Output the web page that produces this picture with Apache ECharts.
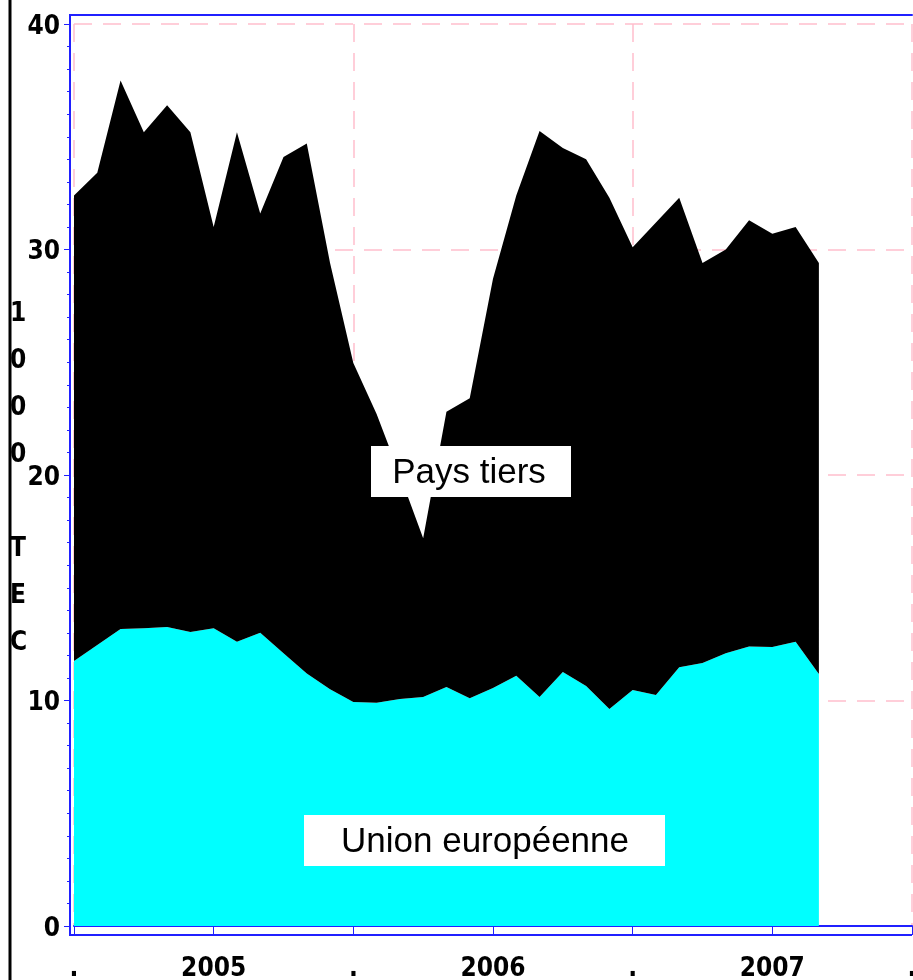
<!DOCTYPE html>
<html>
<head>
<meta charset="utf-8">
<script src="https://cdn.jsdelivr.net/npm/echarts@6/dist/echarts.min.js"></script>
<style>
  html, body { margin: 0; padding: 0; background: #fff; }
  #chart { width: 913px; height: 980px; }
</style>
</head>
<body>
<div id="chart"></div>
<script>
// mois de janvier 2005 à janvier 2008
var mois = [];
for (var a = 2005; a <= 2007; a++) {
  for (var m = 1; m <= 12; m++) {
    mois.push(a + '-' + (m < 10 ? '0' + m : m));
  }
}
mois.push('2008-01');

// 1000 TEC, janv. 2005 -> sept. 2007
var unionEuropeenne = [11.75, 12.46, 13.17, 13.2, 13.26, 13.04, 13.2, 12.6, 13.0, 12.1, 11.2, 10.5,
  9.93, 9.9, 10.07, 10.15, 10.6, 10.1, 10.55, 11.1, 10.15, 11.26, 10.64, 9.62,
  10.47, 10.24, 11.48, 11.66, 12.1, 12.4, 12.37, 12.6, 11.18];
var paysTiers = [20.65, 20.94, 24.33, 22.0, 23.14, 22.16, 17.8, 22.6, 18.6, 22.0, 23.5, 18.9,
  15.04, 12.8, 9.93, 7.05, 12.2, 13.3, 18.15, 21.3, 25.1, 23.24, 23.36, 22.68,
  19.63, 20.96, 20.82, 17.74, 17.9, 18.9, 18.33, 18.4, 18.22];

var titreY = ['1', '0', '0', '0', '', 'T', 'E', 'C'];

var bleu = '#2020ff';
var rose = '#ffbfcd';
var police = "'DejaVu Sans Condensed', 'DejaVu Sans', sans-serif";

var myChart = echarts.init(document.getElementById('chart'));

var option = {
  animation: false,
  grid: { left: 74, right: 1, top: 24, bottom: 54, containLabel: false, outerBoundsMode: 'none' },
  xAxis: [{
    type: 'category',
    data: mois,
    boundaryGap: false,
    offset: 9,
    axisLine: { lineStyle: { color: bleu, width: 2 } },
    axisTick: { interval: 5, length: 9, lineStyle: { color: bleu, width: 1 } },
    axisLabel: {
      interval: 5,
      margin: 21,
      color: '#000',
      fontFamily: police,
      fontWeight: 'bold condensed',
      fontSize: 26,
      formatter: function (v) {
        var p = v.split('-');
        return p[1] === '07' ? p[0] : '.';
      }
    },
    splitLine: { show: false }
  }, {
    // lignes verticales aux changements d'année
    type: 'category',
    data: mois,
    boundaryGap: false,
    position: 'top',
    offset: 9,
    axisLine: { show: true, lineStyle: { color: bleu, width: 2 } },
    axisTick: { show: false },
    axisLabel: { show: false },
    splitLine: { show: true, interval: 11, lineStyle: { color: rose, type: [18, 11], width: 1.5 } }
  }],
  yAxis: {
    type: 'value',
    min: 0,
    max: 40,
    interval: 10,
    offset: 4,
    axisLine: { show: true, lineStyle: { color: bleu, width: 2 } },
    axisTick: { show: true, length: 6, lineStyle: { color: bleu } },
    minorTick: { show: true, splitNumber: 10, length: 3, lineStyle: { color: bleu } },
    axisLabel: {
      margin: 10,
      color: '#000',
      fontFamily: police,
      fontWeight: 'bold condensed',
      fontSize: 26,
      formatter: '{v|{value}}',
      rich: { v: { fontFamily: police, fontWeight: 'bold condensed', fontSize: 26, padding: [6, 0, 0, 0] } }
    },
    splitLine: { show: true, lineStyle: { color: rose, type: [18, 11], width: 1.5 } }
  },
  series: [{
    name: 'Union européenne',
    type: 'line',
    stack: 'total',
    data: unionEuropeenne,
    showSymbol: false,
    lineStyle: { width: 0 },
    areaStyle: { color: '#00ffff', opacity: 1 }
  }, {
    name: 'Pays tiers',
    type: 'line',
    stack: 'total',
    data: paysTiers,
    showSymbol: false,
    lineStyle: { width: 0 },
    areaStyle: { color: '#000000', opacity: 1 }
  }],
  graphic: [
    // cadre
    { type: 'polyline', shape: { points: [[912, 15], [70, 15], [70, 935], [912, 935]] },
      style: { stroke: bleu, lineWidth: 2, fill: null }, z: 10 },
    // trait noir à gauche
    { type: 'line', shape: { x1: 10, y1: 0, x2: 10, y2: 980 },
      style: { stroke: '#000', lineWidth: 3 } },
    // titre vertical
    { type: 'text', left: 10, top: 291,
      style: { text: titreY.join('\n'), fontFamily: police, fontWeight: 'bold condensed', fontSize: 26,
        lineHeight: 47, fill: '#000', align: 'center' } },
    // étiquettes des zones
    { type: 'rect', z: 20, shape: { x: 371, y: 446, width: 200, height: 51 }, style: { fill: '#fff' } },
    { type: 'text', z: 21, x: 469, y: 473, style: { text: 'Pays tiers', fontFamily: 'Liberation Sans, Arial, sans-serif',
        fontSize: 35, fill: '#000', align: 'center', verticalAlign: 'middle' } },
    { type: 'rect', z: 20, shape: { x: 304, y: 815, width: 361, height: 51 }, style: { fill: '#fff' } },
    { type: 'text', z: 21, x: 485, y: 842, style: { text: 'Union européenne', fontFamily: 'Liberation Sans, Arial, sans-serif',
        fontSize: 35, fill: '#000', align: 'center', verticalAlign: 'middle' } }
  ]
};

myChart.setOption(option);
</script>
</body>
</html>
